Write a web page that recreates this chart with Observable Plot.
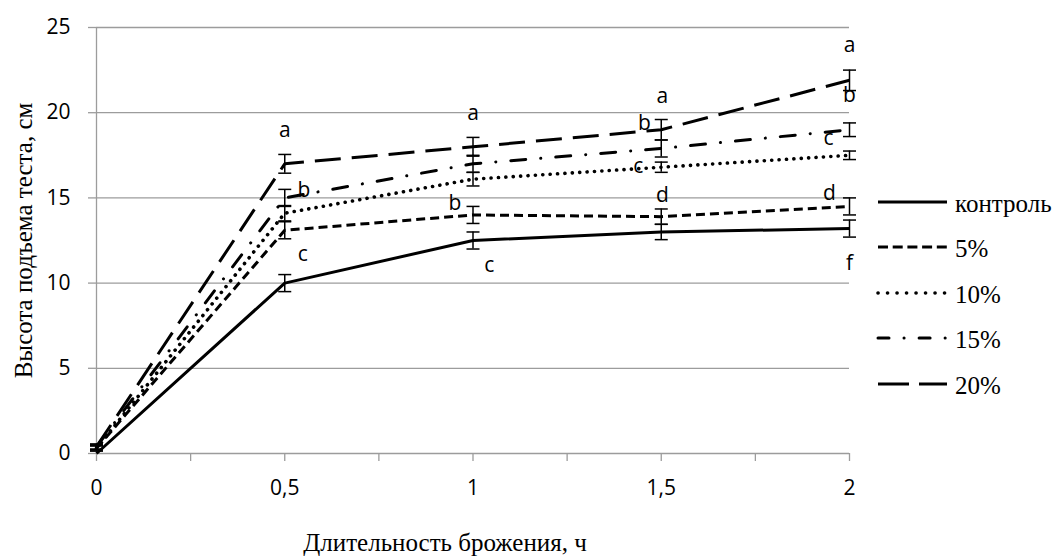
<!DOCTYPE html>
<html>
<head>
<meta charset="utf-8">
<script src="https://cdn.jsdelivr.net/npm/d3@7"></script>
<script src="https://cdn.jsdelivr.net/npm/@observablehq/plot@0.6"></script>
<style>
  html, body { margin: 0; padding: 0; background: #fff; }
  #wrap { position: relative; width: 1059px; height: 558px; }
  #legend { position: absolute; left: 0; top: 0; }
  #legend text { font-family: "Liberation Serif", "Times New Roman", serif; font-size: 25px; }
</style>
</head>
<body>
<div id="wrap"></div>
<script>
// ---- data ----
const hours = [0, 0.5, 1, 1.5, 2];
const seriesNames = ["контроль", "5%", "10%", "15%", "20%"];
const control = [0, 10.0, 12.5, 13.0, 13.2];
const p5  = [0.3, 13.1, 14.0, 13.9, 14.5];
const p10 = [0.3, 14.1, 16.1, 16.8, 17.5];
const p15 = [0.4, 15.0, 17.0, 17.9, 19.0];
const p20 = [0.4, 17.0, 18.0, 19.0, 21.9];
const errControl = [0, 0.5, 0.5, 0.45, 0.5];
const err5  = [0.15, 0.5, 0.5, 0.45, 0.5];
const err10 = [0.15, 0.45, 0.4, 0.3, 0.25];
const err15 = [0.15, 0.5, 0.5, 0.5, 0.4];
const err20 = [0.15, 0.55, 0.55, 0.6, 0.6];

const letterText = ["a","b","c", "a","b","c", "a","b","c","d", "a","b","c","d","f"];
const letterX = [0.5, 0.551, 0.548, 1.0, 0.952, 1.043, 1.503, 1.455, 1.439, 1.503, 2.0, 2.0, 1.944, 1.947, 2.0];
const letterY = [18.96, 15.43, 11.68, 19.95, 14.67, 11.03, 20.95, 19.37, 16.84, 15.14, 23.94, 21.0, 18.49, 15.26, 11.15];

const xTicks = [0, 0.25, 0.5, 0.75, 1, 1.25, 1.5, 1.75, 2];
const xLabelTicks = [0, 0.5, 1, 1.5, 2];
const xTickLabels = ["0", "0,5", "1", "1,5", "2"];
const yTicks = [0, 5, 10, 15, 20, 25];
const yTickLabels = ["0", "5", "10", "15", "20", "25"];

const yTitle = "Высота подъема теста, см";
const xTitle = "Длительность брожения, ч";

// ---- styles ----
const values = [control, p5, p10, p15, p20];
const errs = [errControl, err5, err10, err15, err20];
const lineStyles = [
  {dash: null, cap: "butt", w: 3},
  {dash: "9,5", cap: "butt", w: 3},
  {dash: "0.1,7.3", cap: "round", w: 3.6},
  {dash: "15,15,0.1,15", cap: "round", w: 3},
  {dash: "26,11", cap: "butt", w: 3}
];
const legendStyles = [
  {dash: null, cap: "butt", w: 3},
  {dash: "10,4.7", cap: "butt", w: 3},
  {dash: "0.1,9.4", cap: "round", w: 3.6},
  {dash: "11,15,0.1,15", cap: "round", w: 3},
  {dash: "31,10", cap: "butt", w: 3}
];

const hLine = {draw(ctx, size) { const r = Math.sqrt(size / Math.PI); ctx.moveTo(-r, 0); ctx.lineTo(r, 0); }};

const gridColor = "#9c9c9c";
const serif = "'Liberation Serif', 'Times New Roman', serif";

const marks = [
  Plot.gridY(yTicks, {stroke: gridColor, strokeOpacity: 1, strokeWidth: 1.3}),
  Plot.ruleX([0], {stroke: gridColor, strokeWidth: 1.3}),
  Plot.axisY(yTicks, {label: null, tickSize: 8, tickPadding: 18, stroke: gridColor, strokeWidth: 1.3, fill: "black",
    tickFormat: d => yTickLabels[yTicks.indexOf(d)]}),
  Plot.axisX(xTicks, {label: null, tickSize: 8, tickPadding: 19, stroke: gridColor, strokeWidth: 1.3, fill: "black",
    tickFormat: d => { const i = xLabelTicks.indexOf(d); return i >= 0 ? xTickLabels[i] : ""; }})
];

values.forEach((vals, s) => {
  const rows = hours.map((h, i) => ({x: h, y: vals[i], lo: vals[i] - errs[s][i], hi: vals[i] + errs[s][i]}));
  marks.push(Plot.line(rows, {x: "x", y: "y", stroke: "black", strokeWidth: lineStyles[s].w,
    strokeDasharray: lineStyles[s].dash, strokeLinecap: lineStyles[s].cap, strokeLinejoin: "miter"}));
  const eb = rows.filter(r => r.hi > r.lo);
  marks.push(Plot.ruleX(eb, {x: "x", y1: "lo", y2: "hi", stroke: "black", strokeWidth: 1.5}));
  marks.push(Plot.dot(eb, {x: "x", y: "lo", r: 6.5, symbol: hLine, stroke: "black", fill: "none", strokeWidth: 1.5}));
  marks.push(Plot.dot(eb, {x: "x", y: "hi", r: 6.5, symbol: hLine, stroke: "black", fill: "none", strokeWidth: 1.5}));
});

const letters = letterText.map((t, i) => ({t, x: letterX[i], y: letterY[i]}));
marks.push(Plot.text(letters, {x: "x", y: "y", text: "t", fill: "black", fontSize: 21, textAnchor: "middle", lineAnchor: "middle"}));

marks.push(Plot.text([yTitle], {text: d => d, frameAnchor: "left", dx: -73, rotate: -90, fontFamily: serif, fontSize: 25, fill: "black", lineAnchor: "middle", textAnchor: "middle"}));
marks.push(Plot.text([xTitle], {text: d => d, frameAnchor: "bottom", dx: -28, dy: 89, fontFamily: serif, fontSize: 25, fill: "black", lineAnchor: "middle", textAnchor: "middle"}));

const chart = Plot.plot({
  width: 1059, height: 558,
  marginLeft: 96, marginRight: 210, marginTop: 27, marginBottom: 105,
  x: {domain: [0, 2], axis: null},
  y: {domain: [0, 25], axis: null},
  style: {fontFamily: "'Open Sans', sans-serif", fontSize: "21px", background: "white", overflow: "visible"},
  marks
});
const wrap = document.getElementById("wrap");
wrap.appendChild(chart);

// ---- legend ----
const ns = "http://www.w3.org/2000/svg";
const leg = document.createElementNS(ns, "svg");
leg.setAttribute("id", "legend");
leg.setAttribute("width", 1059); leg.setAttribute("height", 558);
const rowY = [202, 247, 293, 338, 384];
seriesNames.forEach((name, i) => {
  const ln = document.createElementNS(ns, "line");
  ln.setAttribute("x1", 878); ln.setAttribute("x2", 947);
  ln.setAttribute("y1", rowY[i]); ln.setAttribute("y2", rowY[i]);
  ln.setAttribute("stroke", "black"); ln.setAttribute("stroke-width", legendStyles[i].w);
  if (legendStyles[i].dash) ln.setAttribute("stroke-dasharray", legendStyles[i].dash);
  ln.setAttribute("stroke-linecap", legendStyles[i].cap);
  leg.appendChild(ln);
  const tx = document.createElementNS(ns, "text");
  tx.setAttribute("x", 955); tx.setAttribute("y", rowY[i] + 9.5);
  tx.textContent = name;
  leg.appendChild(tx);
});
wrap.appendChild(leg);
</script>
</body>
</html>
